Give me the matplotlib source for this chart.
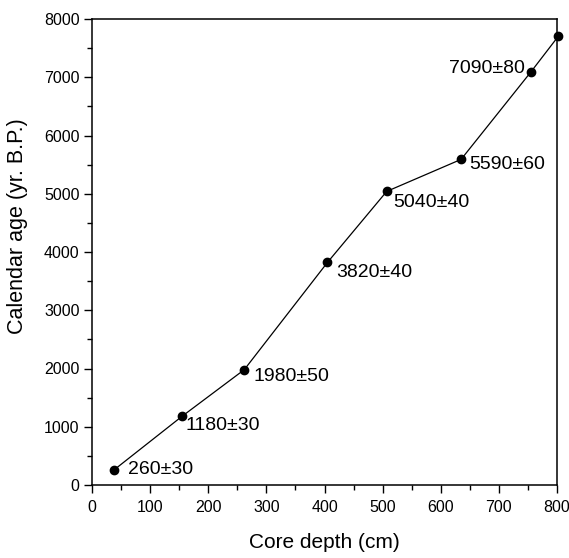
import matplotlib
matplotlib.use("Agg")
import matplotlib.pyplot as plt
from matplotlib.ticker import MultipleLocator

plt.rcParams['font.family'] = ['Liberation Sans', 'DejaVu Sans']

depth = [38, 155, 262, 405, 507, 635, 755, 802]
age = [260, 1180, 1980, 3820, 5040, 5590, 7090, 7700]
labels = ["260±30", "1180±30", "1980±50", "3820±40", "5040±40", "5590±60", "7090±80", ""]
offsets = [(14, 0, 'left'), (3, -9, 'left'), (9, -7, 'left'), (9, -10, 'left'),
           (7, -11, 'left'), (8, -5, 'left'), (-6, 4, 'right'), (0, 0, 'left')]

fig = plt.figure(figsize=(5.69, 5.58), dpi=100)
ax = fig.add_axes([92/569, 73/558, 465/569, 466/558])
ax.plot(depth, age, color='black', lw=0.9, marker='o', ms=6, mfc='black', mec='black', clip_on=False, zorder=3)

for x, y, t, (dx, dy, ha) in zip(depth, age, labels, offsets):
    if t:
        ax.annotate(t, (x, y), xytext=(dx, dy), textcoords='offset pixels',
                    ha=ha, va='center', fontsize=14)

ax.set_xlim(0, 800)
ax.set_ylim(0, 8000)
ax.xaxis.set_major_locator(MultipleLocator(100))
ax.xaxis.set_minor_locator(MultipleLocator(50))
ax.yaxis.set_major_locator(MultipleLocator(1000))
ax.yaxis.set_minor_locator(MultipleLocator(500))
ax.tick_params(which='both', direction='out', top=False, right=False, labelsize=11.5, width=1)
ax.tick_params(which='major', length=5.5)
ax.tick_params(which='minor', length=3.5)
ax.tick_params(axis='x', which='major', pad=5)
ax.tick_params(axis='y', which='major', pad=3.5)
for s in ax.spines.values():
    s.set_linewidth(1.1)

ax.set_xlabel("Core depth (cm)", fontsize=15, labelpad=13)
ax.set_ylabel("Calendar age (yr. B.P.)", fontsize=15.5)
ax.yaxis.set_label_coords(-0.138, 0.556)

fig.savefig("out.png", dpi=100)
